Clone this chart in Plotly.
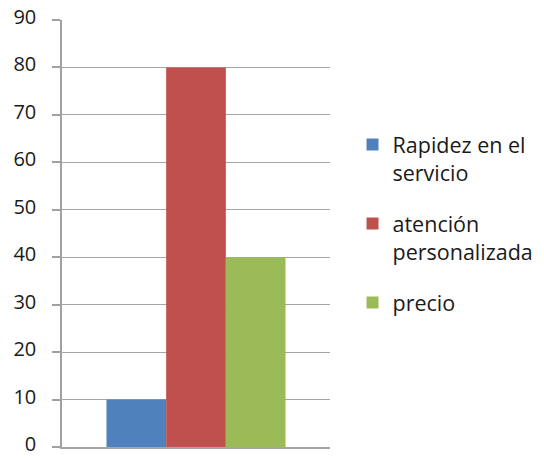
import plotly.graph_objects as go

categories = [""]
series_names = ["Rapidez en el<br>servicio", "atención<br>personalizada", "precio"]
series_values = [[10], [80], [40]]
colors = ["#4F81BD", "#C0504D", "#9BBB59"]
y_ticks = [0, 10, 20, 30, 40, 50, 60, 70, 80, 90]

fig = go.Figure()
for i, (name, vals, col) in enumerate(zip(series_names, series_values, colors)):
    fig.add_trace(go.Bar(x=categories, y=vals, name=name, legendgroup=f"g{i}",
                         marker=dict(color=col, line=dict(width=0))))

fig.update_layout(
    width=544, height=458,
    margin=dict(l=62, r=214, t=20, b=11, autoexpand=False),
    barmode="group", bargap=0.332, bargroupgap=0,
    plot_bgcolor="white", paper_bgcolor="white",
    font=dict(family="Open Sans", size=22, color="#1a1a1a"),
    legend=dict(
        xref="container", yref="container",
        x=0.648, y=0.729, xanchor="left", yanchor="top",
        valign="top", font=dict(size=21.5), tracegroupgap=20,
        bgcolor="rgba(0,0,0,0)",
    ),
    showlegend=True,
)
fig.update_yaxes(
    range=[0, 90], tickvals=y_ticks, showgrid=True, gridcolor="#a6a6a6", gridwidth=1.2,
    showline=True, linecolor="#a0a0a0", linewidth=1.5,
    ticks="outside", ticklen=8, tickcolor="#a0a0a0", tickwidth=1.5,
    tickfont=dict(size=20), ticklabelshift=-3,
    ticklabelstandoff=12, ticklabeloverflow="allow", zeroline=False, automargin=False,
)
fig.update_xaxes(showticklabels=False, showline=True, linecolor="#a6a6a6", linewidth=1.5,
                 showgrid=False, zeroline=False, automargin=False)
fig.write_html("out.html")
